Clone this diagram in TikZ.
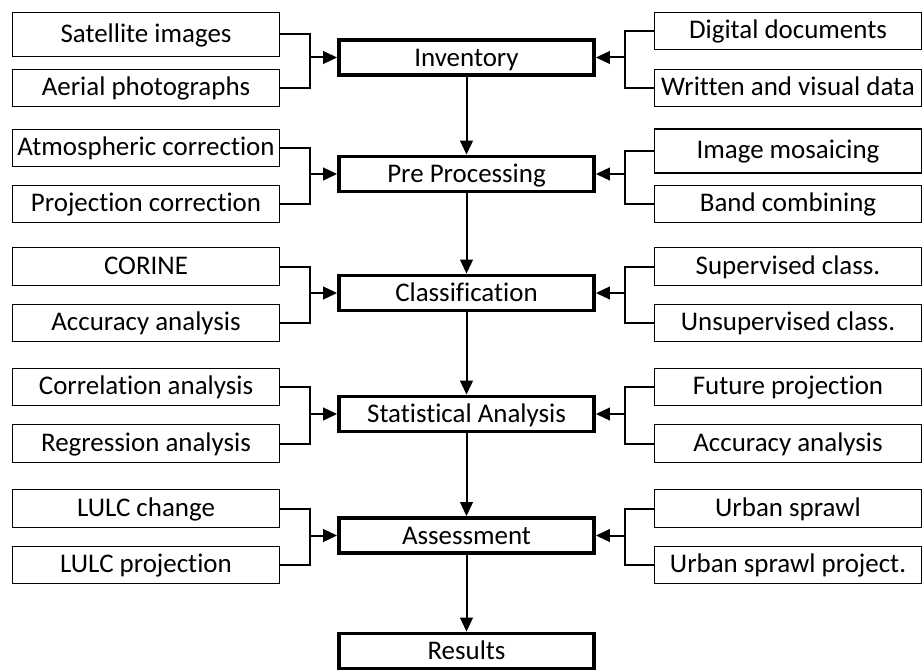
\documentclass[tikz,border=0pt]{standalone}
\usepackage{fontspec}
\setmainfont{Carlito}[Ligatures=NoCommon]
\usepackage{tikz}
\usetikzlibrary{arrows.meta, positioning}

\begin{document}
\begin{tikzpicture}[
    x=0.75pt, y=-0.75pt,
    side/.style={draw=black, line width=0.9pt, minimum width=200pt, minimum height=28pt, inner sep=0pt, text height=12.5pt, text depth=1pt, font=\fontsize{20.2}{24}\selectfont},
    stage/.style={draw=black, line width=2.6pt, minimum width=191.5pt, minimum height=26.5pt, inner sep=0pt, text height=13pt, text depth=0pt, font=\fontsize{20.2}{24}\selectfont},
    edge/.style={line width=1.5pt, black},
    flow/.style={edge, -{Triangle[length=10.5pt, width=9.5pt]}}
]
\useasboundingbox (0,0) rectangle (923,670);

% Main chain
\node[stage] (inv) at (466.5,57.5) {Inventory};
\node[stage] (pre) at (466.5,174) {Pre Processing};
\node[stage] (cls) at (466.5,293) {Classification};
\node[stage] (sta) at (466.5,414) {Statistical Analysis};
\node[stage] (ass) at (466.5,535.5) {Assessment};
\node[stage] (res) at (466.5,651) {Results};

\draw[flow] (inv) -- (pre);
\draw[flow] (pre) -- (cls);
\draw[flow] (cls) -- (sta);
\draw[flow] (sta) -- (ass);
\draw[flow] (ass) -- (res);

% Left inputs
\node[side, minimum height=33pt] (sat) at (146,34.5) {Satellite images};
\node[side] (aer) at (146,88) {Aerial photographs};
\node[side] (atm) at (146,148) {Atmospheric correction};
\node[side] (prj) at (146,204) {Projection correction};
\node[side] (cor) at (146,266.5) {CORINE};
\node[side] (acl) at (146,323) {Accuracy analysis};
\node[side] (crr) at (146,387) {Correlation analysis};
\node[side] (reg) at (146,443.5) {Regression analysis};
\node[side] (chg) at (146,508.5) {LULC change};
\node[side] (lpr) at (146,565) {LULC projection};

% Right inputs
\node[side] (dig) at (788,31) {Digital documents};
\node[side] (wri) at (788,88) {Written and visual data};
\node[side, minimum height=33pt] (mos) at (788,151) {Image mosaicing};
\node[side] (bnd) at (788,204) {Band combining};
\node[side] (sup) at (788,266.5) {Supervised class.};
\node[side] (uns) at (788,323) {Unsupervised class.};
\node[side] (fut) at (788,387) {Future projection};
\node[side] (acr) at (788,443.5) {Accuracy analysis};
\node[side] (urb) at (788,508.5) {Urban sprawl};
\node[side] (upr) at (788,565) {Urban sprawl project.};

% Junctions
\coordinate[left=20.5pt of inv.west] (li);
\coordinate[left=20.5pt of pre.west] (lp);
\coordinate[left=20.5pt of cls.west] (lc);
\coordinate[left=20.5pt of sta.west] (ls);
\coordinate[left=20.5pt of ass.west] (la);
\coordinate[right=22pt of inv.east] (ri);
\coordinate[right=22pt of pre.east] (rp);
\coordinate[right=22pt of cls.east] (rc);
\coordinate[right=22pt of sta.east] (rs);
\coordinate[right=22pt of ass.east] (ra);

\draw[edge] (sat.east) -| (li) |- (aer.east);
\draw[edge] (atm.east) -| (lp) |- (prj.east);
\draw[edge] (cor.east) -| (lc) |- (acl.east);
\draw[edge] (crr.east) -| (ls) |- (reg.east);
\draw[edge] (chg.east) -| (la) |- (lpr.east);
\draw[flow] (li) -- (inv.west);
\draw[flow] (lp) -- (pre.west);
\draw[flow] (lc) -- (cls.west);
\draw[flow] (ls) -- (sta.west);
\draw[flow] (la) -- (ass.west);

\draw[edge] (dig.west) -| (ri) |- (wri.west);
\draw[edge] (mos.west) -| (rp) |- (bnd.west);
\draw[edge] (sup.west) -| (rc) |- (uns.west);
\draw[edge] (fut.west) -| (rs) |- (acr.west);
\draw[edge] (urb.west) -| (ra) |- (upr.west);
\draw[flow] (ri) -- (inv.east);
\draw[flow] (rp) -- (pre.east);
\draw[flow] (rc) -- (cls.east);
\draw[flow] (rs) -- (sta.east);
\draw[flow] (ra) -- (ass.east);

\end{tikzpicture}
\end{document}
